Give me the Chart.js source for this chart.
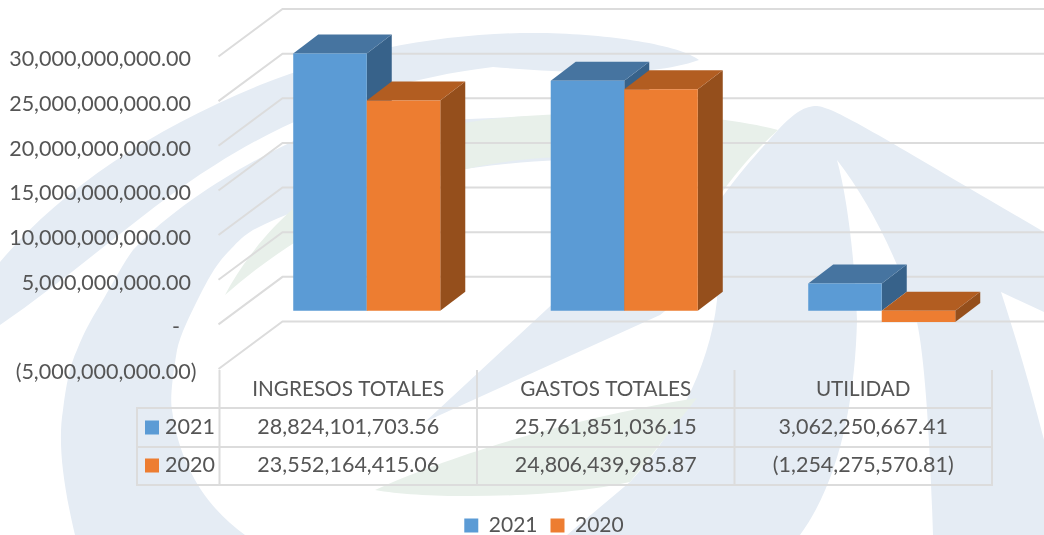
<!DOCTYPE html>
<html><head><meta charset="utf-8">
<style>
html,body{margin:0;padding:0;background:#fff;width:1044px;height:535px;overflow:hidden}
#bg{position:absolute;left:0;top:0}
#wrap{position:absolute;left:0;top:0;width:1044px;height:535px}
</style>
<script src="https://cdn.jsdelivr.net/npm/chart.js@4/dist/chart.umd.min.js"></script>
</head><body>
<svg id="bg" width="1044" height="535" viewBox="0 0 1044 535">
 <g fill="#e5ecf4">
  <path d="M0 262C60 190 150 130 260 85C350 50 450 32 540 33C610 34 680 45 699 60C670 70 640 72 600 72C560 72 530 70 493 67C400 78 300 110 215 165C150 205 80 270 0 325Z"/>
  <path d="M75 535C62 480 58 440 63 410C66 385 70 365 77 350C84 332 92 318 100 305C112 285 122 265 133 250C190 190 280 145 330 125L560 115L560 160C440 165 320 195 253 230C240 238 235 245 230 250C215 265 208 280 200 295C190 315 180 335 177 350C172 380 170 400 172 410C180 470 210 510 245 535Z"/>
  <path d="M720 200C745 165 765 145 778 130C795 112 805 106 817 106C835 108 870 130 1044 232L1044 312L1001 292C1015 335 1030 385 1044 440L1044 535L933 535C930 440 925 360 917 322C910 300 900 275 897 265C880 225 860 190 837 160C848 200 855 265 857 320C855 400 840 480 800 535L567 535L630 482C670 440 710 370 717 300Z"/>
  <path d="M425 422L560 297L720 200L717 270L660 315L440 415Z"/>
 </g>
 <g fill="#e8f0ea">
  <path d="M225 295C270 210 370 130 500 118C620 108 720 115 778 130C750 155 735 175 720 195C680 165 600 150 520 160C420 170 310 220 225 295Z"/>
  <path d="M375 490C440 460 560 420 697 398L630 482C560 498 430 500 375 490Z"/>
 </g>
</svg>
<div id="wrap"><canvas id="c" width="1044" height="535"></canvas></div>
<script>
const categories = ["INGRESOS TOTALES", "GASTOS TOTALES", "UTILIDAD"];
const seriesNames = ["2021", "2020"];
const values2021 = [28824101703.56, 25761851036.15, 3062250667.41];
const values2020 = [23552164415.06, 24806439985.87, -1254275570.81];
const yTicks = [-5e9, 0, 5e9, 10e9, 15e9, 20e9, 25e9, 30e9];
const frontColors = ["#5B9BD5", "#ED7D31"];
const topColors = ["#4674A0", "#B25D21"];
const sideColors = ["#37628A", "#954F1C"];

const FONT = 'Lato, "Noto Sans", sans-serif';
const FS = 21.5;
const FS_HEAD = 20.7;
const TXT = "#555555";
const GRID = "#dcdcdc";
// oblique projection of the depth axis
const WALL = {dx: 64, dy: -47.5};
const BAR_OFF = {dx: 18.5, dy: -13.5};
const BAR_D = {dx: 25, dy: -19};

function money(v){
  const s = Math.abs(v).toLocaleString("en-US",{minimumFractionDigits:2,maximumFractionDigits:2});
  return v < 0 ? "(" + s + ")" : s;
}
function tickText(v){
  if (v === 0) return "-   ";
  return v < 0 ? money(v) : money(v) + " ";
}
function poly(ctx, pts, fill){
  ctx.beginPath();
  pts.forEach((p,i)=> i ? ctx.lineTo(p[0],p[1]) : ctx.moveTo(p[0],p[1]));
  ctx.closePath();
  ctx.fillStyle = fill;
  ctx.fill();
}
const view3d = {
  id: "view3d",
  afterLayout(chart){
    const lg = chart.legend;
    lg.left = 90; lg.right = 998;
    lg.top += 11; lg.bottom += 11;
  },
  beforeDraw(chart){
    // tick labels sit slightly below the wall lines they belong to
    chart.scales.y.getLabelItems(chart.chartArea).forEach(it=>{
      if (!it.shifted) { it.options.translation[1] += 3; it.shifted = true; }
    });
  },
  beforeDatasetsDraw(chart){
    const {ctx, scales:{x,y}} = chart;
    ctx.save();
    ctx.strokeStyle = GRID;
    ctx.lineWidth = 2;
    yTicks.forEach(t=>{
      const py = y.getPixelForValue(t);
      ctx.beginPath();
      ctx.moveTo(x.left - 1, py);
      ctx.lineTo(x.left - 1 + WALL.dx, py + WALL.dy);
      ctx.lineTo(1044, py + WALL.dy);
      ctx.stroke();
    });
    // data table rules
    const cols = [x.left, x.left + x.width/3, x.left + 2*x.width/3, x.right];
    const rows = [408, 447, 485];
    ctx.beginPath();
    cols.forEach(cx=>{ ctx.moveTo(cx, y.bottom + 1); ctx.lineTo(cx, rows[2]); });
    ctx.moveTo(137, rows[0]); ctx.lineTo(137, rows[2]);
    rows.forEach(ry=>{ ctx.moveTo(136, ry); ctx.lineTo(x.right + 1, ry); });
    ctx.stroke();
    // data table text
    ctx.font = FS + "px " + FONT;
    ctx.textBaseline = "middle";
    [values2021, values2020].forEach((vals,r)=>{
      const cy = r ? 465.5 : 427.5;
      ctx.fillStyle = frontColors[r];
      ctx.fillRect(145, cy - 7, 14, 14);
      ctx.fillStyle = TXT;
      ctx.textAlign = "left";
      ctx.fillText(seriesNames[r], 165, cy);
      ctx.textAlign = "center";
      vals.forEach((v,i)=> ctx.fillText(money(v), x.getPixelForTick(i), cy));
    });
    ctx.restore();
  },
  beforeDatasetDraw(){ return false; },
  afterDatasetsDraw(chart){
    const {ctx} = chart;
    [0,1].forEach(d=>{
      const meta = chart.getDatasetMeta(d);
      ctx.save();
      ctx.translate(BAR_OFF.dx, BAR_OFF.dy);
      meta.data.forEach(b=>{
        const {x, y, base, width} = b.getProps(["x","y","base","width"]);
        const l = x - width/2, r = x + width/2;
        const t = Math.min(y, base), bt = Math.max(y, base);
        poly(ctx, [[r,t],[r+BAR_D.dx,t+BAR_D.dy],[r+BAR_D.dx,bt+BAR_D.dy],[r,bt]], sideColors[d]);
        poly(ctx, [[l,t],[l+BAR_D.dx,t+BAR_D.dy],[r+BAR_D.dx,t+BAR_D.dy],[r,t]], topColors[d]);
      });
      meta.controller.draw();
      ctx.restore();
    });
  }
};

new Chart(document.getElementById("c"), {
  type: "bar",
  data: {
    labels: categories,
    datasets: [
      {label: seriesNames[0], data: values2021, backgroundColor: frontColors[0]},
      {label: seriesNames[1], data: values2020, backgroundColor: frontColors[1]}
    ]
  },
  plugins: [view3d],
  options: {
    responsive: false,
    animation: false,
    layout: {padding: {left: 0, right: 52, top: 56.5, bottom: 0}},
    datasets: {bar: {categoryPercentage: 0.571, barPercentage: 1}},
    scales: {
      x: {
        grid: {display: false, drawTicks: false},
        border: {display: false},
        ticks: {color: TXT, font: {family: FONT, size: FS_HEAD}, padding: 8, maxRotation: 0, autoSkip: false},
        afterFit(a){ a.height = 122; }
      },
      y: {
        min: -5e9, max: 30e9,
        grid: {display: false, drawTicks: false},
        border: {display: false},
        afterBuildTicks(a){ a.ticks = yTicks.map(v=>({value: v})); },
        ticks: {color: TXT, font: {family: FONT, size: FS}, padding: 23, callback: tickText},
        afterFit(a){ a.width = 219.5; }
      }
    },
    plugins: {
      tooltip: {enabled: false},
      legend: {
        position: "bottom",
        labels: {color: TXT, font: {family: FONT, size: 21}, boxWidth: 14, boxHeight: 14, padding: 13}
      }
    }
  }
});
</script>
</body></html>
